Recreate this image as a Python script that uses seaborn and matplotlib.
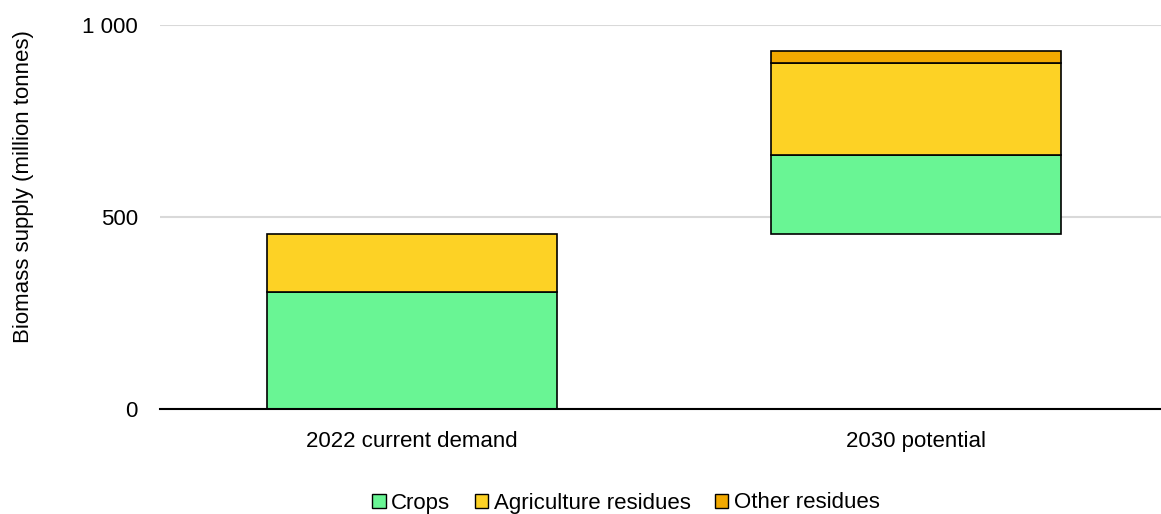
import matplotlib
matplotlib.use("Agg")
import matplotlib.pyplot as plt
from matplotlib.patches import Patch
import seaborn as sns
import pandas as pd

# Data (million tonnes)
categories = ["2022 current demand", "2030 potential"]
base = [0, 457]
crops = [305, 205]
agri_residues = [152, 240]
other_residues = [0, 30]
series_names = ["Crops", "Agriculture residues", "Other residues"]
colors = ["#69F594", "#FDD225", "#F2A900"]
yticks = [0, 500, 1000]
ytick_labels = ["0", "500", "1 000"]

sns.set_theme(style="white")
plt.rcParams["font.family"] = ["Liberation Sans", "DejaVu Sans"]
plt.rcParams["text.color"] = "black"

fig = plt.figure(figsize=(11.61, 5.14), dpi=100)
ax = fig.add_axes([160 / 1161, 1 - 409 / 514, 1 - 160 / 1161, 384 / 514])

df = pd.DataFrame({"cat": categories, "base": base, "crops": crops,
                   "agri": agri_residues, "other": other_residues})
df["b_agri"] = df["base"] + df["crops"]
df["b_other"] = df["b_agri"] + df["agri"]

layers = [("crops", "base"), ("agri", "b_agri"), ("other", "b_other")]
for (col, bcol), color in zip(layers, colors):
    sub = df[df[col] > 0]
    sns.barplot(data=sub, x="cat", y=col, bottom=sub[bcol].values, order=categories,
                color=color, edgecolor="black", linewidth=1.2, width=0.575,
                saturation=1, ax=ax, errorbar=None)

ax.set_ylim(0, 1000)
ax.set_xlim(-0.5, 1.486)
ax.set_yticks(yticks)
ax.set_yticklabels(ytick_labels)
ax.yaxis.grid(True, color="#D9D9D9", linewidth=1.5)
ax.set_axisbelow(True)
for s in ["top", "right", "left"]:
    ax.spines[s].set_visible(False)
ax.spines["bottom"].set_color("black")
ax.spines["bottom"].set_linewidth(1.5)
ax.spines["bottom"].set_zorder(5)
ax.tick_params(axis="both", length=0, labelsize=16, colors="black", pad=16)
ax.set_xlabel("")
ax.set_ylabel("Biomass supply (million tonnes)", fontsize=16, color="black")
ax.yaxis.set_label_coords(-0.126, 0.58)

handles = [Patch(facecolor=c, edgecolor="black", linewidth=1.0) for c in colors]
fig.legend(handles, series_names, loc="center", bbox_to_anchor=(626 / 1161, 1 - 503 / 514),
           ncol=3, frameon=False, fontsize=16, handlelength=0.6, handleheight=0.6,
           handletextpad=0.25, columnspacing=1.1, borderaxespad=0, labelcolor="black")

fig.savefig("out.png", dpi=100)
